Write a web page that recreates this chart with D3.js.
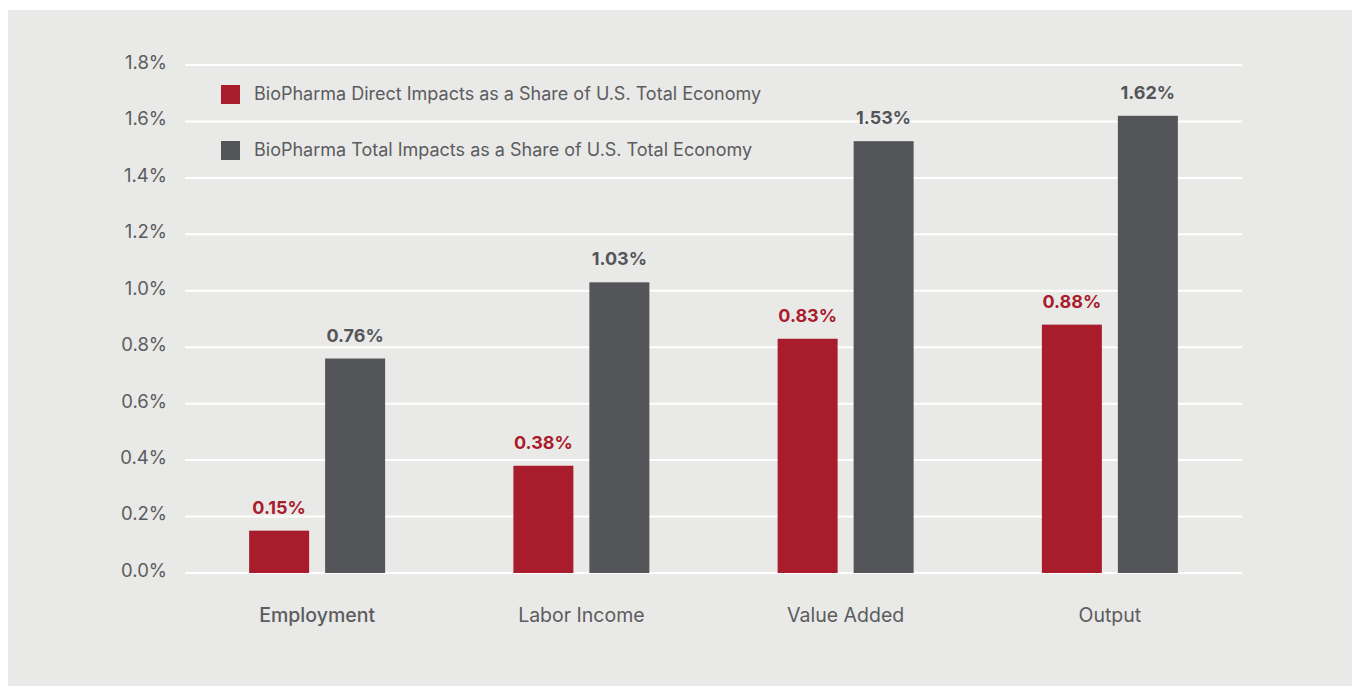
<!DOCTYPE html>
<html>
<head>
<meta charset="utf-8">
<script src="https://cdn.jsdelivr.net/npm/d3@7"></script>
<style>
  html, body { margin: 0; padding: 0; background: #ffffff; }
  svg { display: block; font-family: Inter, Roboto, "Noto Sans", sans-serif; }
</style>
</head>
<body>
<svg id="chart" width="1352" height="686"></svg>
<script>
// Impact measures and the two series, as shares of the U.S. economy (%)
const categories = ["Employment", "Labor Income", "Value Added", "Output"];
const seriesNames = [
  "BioPharma Direct Impacts as a Share of U.S. Total Economy",
  "BioPharma Total Impacts as a Share of U.S. Total Economy"
];
const directValues = [0.15, 0.38, 0.83, 0.88];
const totalValues = [0.76, 1.03, 1.53, 1.62];
const yTicks = [0, 0.2, 0.4, 0.6, 0.8, 1.0, 1.2, 1.4, 1.6, 1.8];

const colors = ["#a91c2c", "#545559"];
const textColor = "#5b5c60";
const fontStack = "Inter, Roboto, 'Noto Sans', sans-serif";

const svg = d3.select("#chart");

// background panel
svg.append("rect")
  .attr("x", 8).attr("y", 10)
  .attr("width", 1352 - 8).attr("height", 686 - 10)
  .attr("fill", "#e9e9e7");

const plot = { left: 185, right: 1242, top: 65, bottom: 573 };

const x0 = d3.scaleBand()
  .domain(categories)
  .range([plot.left, plot.right])
  .paddingInner(0).paddingOuter(0);

const barW = 60, barGap = 16;
const x1 = d3.scaleOrdinal()
  .domain([0, 1])
  .range([-(barW + barGap / 2), barGap / 2]);

const y = d3.scaleLinear()
  .domain([0, 1.8])
  .range([plot.bottom, plot.top]);

// gridlines
svg.append("g")
  .selectAll("line")
  .data(yTicks)
  .join("line")
  .attr("x1", plot.left).attr("x2", plot.right)
  .attr("y1", d => y(d)).attr("y2", d => y(d))
  .attr("stroke", "#ffffff")
  .attr("stroke-width", 2);

// y axis labels
const yAxis = d3.axisLeft(y)
  .tickValues(yTicks)
  .tickSize(0)
  .tickPadding(0)
  .tickFormat(d => d3.format(".1f")(d) + "%");

const yg = svg.append("g")
  .attr("transform", `translate(${plot.left - 18},0)`)
  .call(yAxis)
  .attr("font-family", fontStack);
yg.select(".domain").remove();
yg.selectAll("text")
  .attr("fill", textColor)
  .attr("font-size", 18.5)
  .attr("dy", "0.18em");

// x axis labels
const xAxis = d3.axisBottom(x0).tickSize(0).tickPadding(0);
const xg = svg.append("g")
  .attr("transform", `translate(0,${plot.bottom + 49})`)
  .call(xAxis)
  .attr("font-family", fontStack);
xg.select(".domain").remove();
xg.selectAll("text")
  .attr("fill", textColor)
  .attr("font-size", 19.5)
  .attr("dy", 0)
  .attr("font-weight", (d, i) => i === 0 ? 500 : 400);

// bars and value labels
const rows = categories.map((c, i) => ({
  category: c,
  values: [directValues[i], totalValues[i]]
}));

const groups = svg.append("g")
  .selectAll("g")
  .data(rows)
  .join("g")
  .attr("transform", d => `translate(${x0(d.category) + x0.bandwidth() / 2},0)`);

groups.selectAll("rect")
  .data(d => d.values.map((v, s) => ({ v, s })))
  .join("rect")
  .attr("x", d => x1(d.s))
  .attr("width", barW)
  .attr("y", d => y(d.v))
  .attr("height", d => y(0) - y(d.v))
  .attr("fill", d => colors[d.s]);

groups.selectAll("text")
  .data(d => d.values.map((v, s) => ({ v, s })))
  .join("text")
  .attr("x", d => x1(d.s) + barW / 2)
  .attr("y", d => y(d.v) - 17)
  .attr("text-anchor", "middle")
  .attr("font-size", 18)
  .attr("font-weight", 700)
  .attr("fill", d => colors[d.s])
  .text(d => d3.format(".2f")(d.v) + "%");

// legend
const legend = svg.append("g")
  .selectAll("g")
  .data(seriesNames)
  .join("g")
  .attr("transform", (d, i) => `translate(221,${85 + i * 56})`);

legend.append("rect")
  .attr("width", 19).attr("height", 19)
  .attr("fill", (d, i) => colors[i]);

legend.append("text")
  .attr("x", 33).attr("y", 9.5)
  .attr("dy", "0.3em")
  .attr("font-size", 18)
  .attr("fill", textColor)
  .text(d => d);
</script>
</body>
</html>
